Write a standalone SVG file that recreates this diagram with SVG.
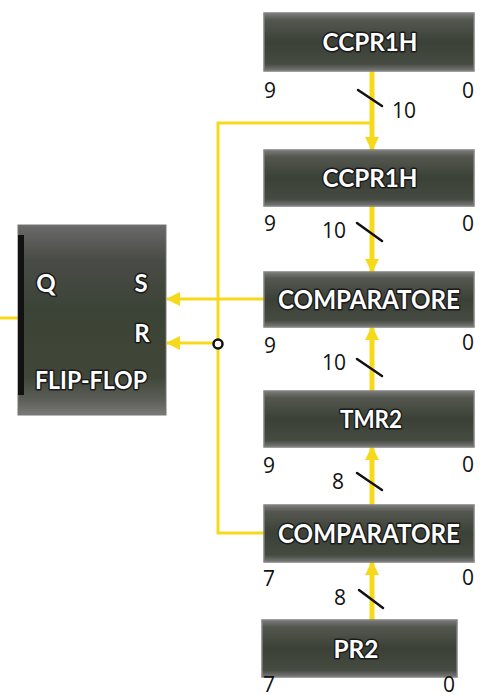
<svg xmlns="http://www.w3.org/2000/svg" width="489" height="699" viewBox="0 0 489 699">
  <defs>
    <linearGradient id="boxg" x1="0" y1="0" x2="0" y2="1">
      <stop offset="0" stop-color="#7c7c7c"/>
      <stop offset="0.12" stop-color="#54574f"/>
      <stop offset="0.5" stop-color="#3b4137"/>
      <stop offset="0.88" stop-color="#464b42"/>
      <stop offset="1" stop-color="#7a7a7a"/>
    </linearGradient>
    <linearGradient id="ffg" x1="0" y1="0" x2="0" y2="1">
      <stop offset="0" stop-color="#6a6a6a"/>
      <stop offset="0.18" stop-color="#4a4c47"/>
      <stop offset="0.45" stop-color="#3b4336"/>
      <stop offset="0.8" stop-color="#404738"/>
      <stop offset="0.92" stop-color="#5c5e58"/>
      <stop offset="1" stop-color="#7a7a7a"/>
    </linearGradient>
    <marker id="ah" viewBox="0 0 14 14" refX="13" refY="7" markerWidth="14" markerHeight="14" markerUnits="userSpaceOnUse" orient="auto">
      <path d="M0,0 L14,7 L0,14 Z" fill="#f7d91c"/>
    </marker>
    <style>
      .box { fill: url(#boxg); stroke: #808080; stroke-width: 1.5; }
      .lbl { font-family: Lato, "Open Sans", sans-serif; font-weight: 700; fill: #ffffff; stroke: #1a1a1a; stroke-width: 3; paint-order: stroke; stroke-linejoin: round; text-anchor: middle; }
      .num { font-family: "Open Sans", "DejaVu Sans", sans-serif; font-size: 21px; fill: #111; }
      .y { stroke: #f7d91c; fill: none; stroke-width: 3; }
      .yc { stroke: #f7d91c; fill: none; stroke-width: 5; }
      .tick { stroke: #111; stroke-width: 2.5; stroke-linecap: round; }
    </style>
  </defs>

  <g id="connectors">
    <polyline class="y" points="372,123 218,123 218,533 264,533"/>
    <line class="y" x1="264" y1="299" x2="167" y2="299" marker-end="url(#ah)"/>
    <line class="y" x1="214" y1="343" x2="167" y2="343" marker-end="url(#ah)"/>
    <line class="y" x1="0" y1="318" x2="18" y2="318"/>
    <line class="yc" x1="372" y1="71" x2="372" y2="150" marker-end="url(#ah)"/>
    <line class="yc" x1="372" y1="206" x2="372" y2="272" marker-end="url(#ah)"/>
    <line class="yc" x1="372" y1="391" x2="372" y2="327" marker-end="url(#ah)"/>
    <line class="yc" x1="372" y1="505" x2="372" y2="447" marker-end="url(#ah)"/>
    <line class="yc" x1="372" y1="620" x2="372" y2="562" marker-end="url(#ah)"/>
    <circle cx="218" cy="344" r="4.5" fill="#fff" stroke="#111" stroke-width="2.5"/>
    <line class="tick" x1="358" y1="90" x2="382" y2="106"/>
    <line class="tick" x1="357" y1="223" x2="382" y2="241"/>
    <line class="tick" x1="357" y1="359" x2="382" y2="376"/>
    <line class="tick" x1="357" y1="473" x2="382" y2="490"/>
    <line class="tick" x1="359" y1="590" x2="383" y2="608"/>
    <text class="num" x="392" y="118">10</text>
    <text class="num" x="322" y="238">10</text>
    <text class="num" x="322" y="370">10</text>
    <text class="num" x="332" y="489">8</text>
    <text class="num" x="334" y="605">8</text>
  </g>

  <g id="flipflop">
    <rect x="18" y="225" width="148" height="190" fill="url(#ffg)" stroke="#777" stroke-width="1"/>
    <rect x="18" y="235" width="6" height="160" fill="#111"/>
    <text class="lbl" x="46" y="292" font-size="24">Q</text>
    <text class="lbl" x="141" y="292" font-size="24">S</text>
    <text class="lbl" x="142" y="342" font-size="24">R</text>
    <text class="lbl" x="91" y="389" font-size="24" textLength="112" lengthAdjust="spacingAndGlyphs">FLIP-FLOP</text>
  </g>

  <g id="ccpr1h-a">
    <rect class="box" x="264" y="13" width="210" height="58"/>
    <text class="lbl" x="370" y="51" font-size="25" textLength="95" lengthAdjust="spacingAndGlyphs">CCPR1H</text>
    <text class="num" x="264" y="98">9</text>
    <text class="num" x="462" y="98">0</text>
  </g>

  <g id="ccpr1h-b">
    <rect class="box" x="264" y="150" width="210" height="56"/>
    <text class="lbl" x="370" y="187" font-size="25" textLength="95" lengthAdjust="spacingAndGlyphs">CCPR1H</text>
    <text class="num" x="264" y="231">9</text>
    <text class="num" x="462" y="231">0</text>
  </g>

  <g id="comparatore-a">
    <rect class="box" x="264" y="272" width="210" height="55"/>
    <text class="lbl" x="369" y="309" font-size="27" textLength="182" lengthAdjust="spacingAndGlyphs">COMPARATORE</text>
    <text class="num" x="264" y="353">9</text>
    <text class="num" x="462" y="350">0</text>
  </g>

  <g id="tmr2">
    <rect class="box" x="264" y="391" width="210" height="56"/>
    <text class="lbl" x="371" y="428" font-size="25" textLength="62" lengthAdjust="spacingAndGlyphs">TMR2</text>
    <text class="num" x="263" y="473">9</text>
    <text class="num" x="462" y="472">0</text>
  </g>

  <g id="comparatore-b">
    <rect class="box" x="264" y="505" width="210" height="57"/>
    <text class="lbl" x="369" y="543" font-size="27" textLength="182" lengthAdjust="spacingAndGlyphs">COMPARATORE</text>
    <text class="num" x="263" y="586">7</text>
    <text class="num" x="462" y="585">0</text>
  </g>

  <g id="pr2">
    <rect class="box" x="262" y="620" width="195" height="57"/>
    <text class="lbl" x="356" y="658" font-size="25" textLength="45" lengthAdjust="spacingAndGlyphs">PR2</text>
    <text class="num" x="263" y="692" font-size="20">7</text>
    <text class="num" x="443" y="692" font-size="20">0</text>
  </g>
</svg>
